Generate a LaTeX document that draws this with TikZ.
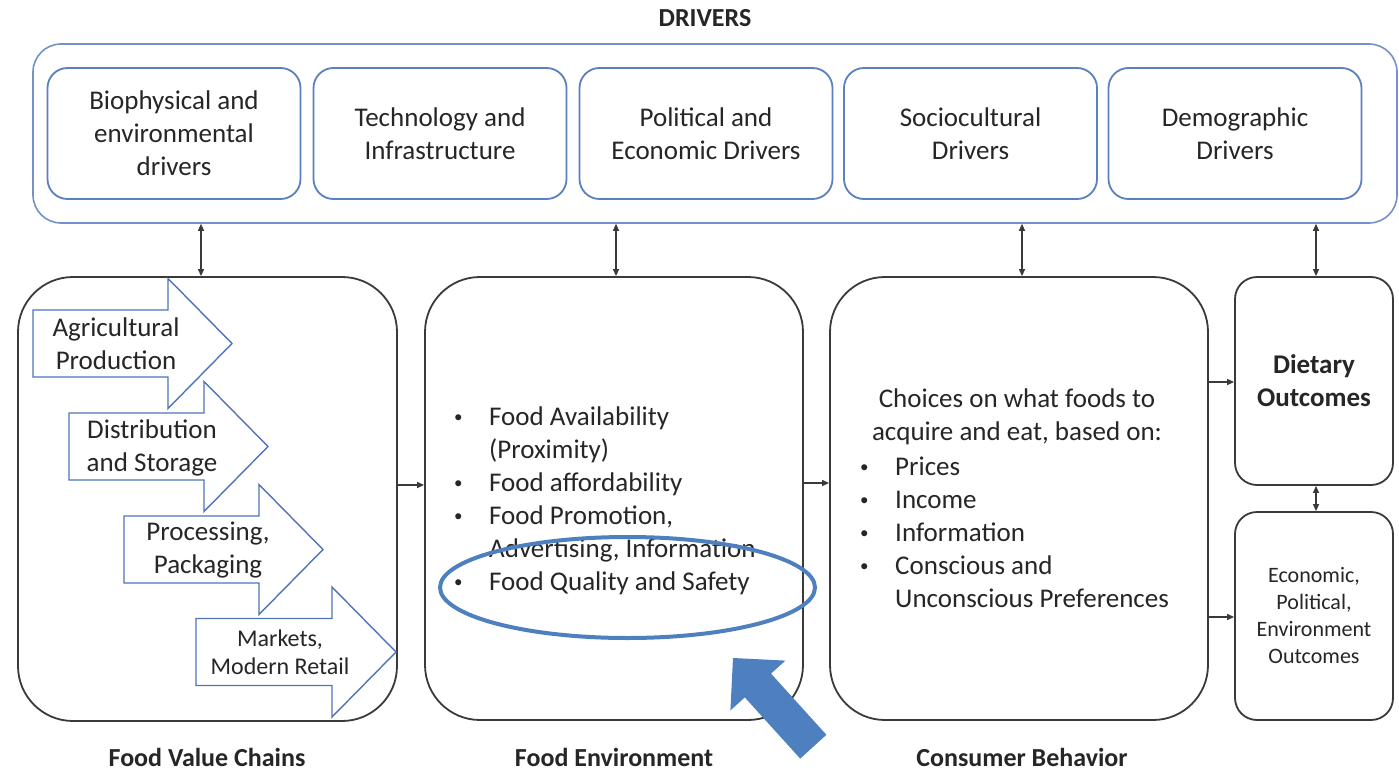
\documentclass[tikz,border=0pt]{standalone}
\usepackage{fontspec}
\setmainfont{Carlito}
\usetikzlibrary{arrows.meta,shapes.geometric}
\definecolor{driverblue}{HTML}{5B7FC0}
\definecolor{chainblue}{HTML}{4F74B8}
\definecolor{markblue}{HTML}{4E7FBE}
\definecolor{ink}{HTML}{262626}
\definecolor{frame}{HTML}{3A3A3A}

% one step of the value chain: left edge, body right edge, centre line
\newcommand\drawchain[3]{%
  \draw[chain] (#1,{#3-33.5}) -- (#2,{#3-33.5}) -- (#2,{#3-65}) -- ({#2+64},#3)
    -- (#2,{#3+65}) -- (#2,{#3+33.5}) -- (#1,{#3+33.5}) -- cycle;}
% small list bullet
\newcommand\listdot{\hspace*{3pt}\raisebox{3pt}{\fontsize{17}{17}\selectfont\textbullet}}

\begin{document}
\begin{tikzpicture}[x=1pt,y=-1pt,
  txt/.style={inner sep=0pt, text=ink, font=\fontsize{27}{33}\selectfont, align=center},
  listtxt/.style={inner sep=0pt, text=ink, font=\fontsize{27}{33}\selectfont, anchor=base west},
  drvbox/.style={draw=driverblue, line width=1.8pt, rounded corners=20pt,
    minimum width=253pt, minimum height=131pt, inner sep=0pt, text=ink,
    font=\fontsize{27}{33}\selectfont, align=center},
  stage/.style={draw=frame, line width=1.8pt, rounded corners=55pt,
    minimum width=378pt, minimum height=443pt, inner sep=0pt},
  outcome/.style={draw=frame, line width=1.8pt, rounded corners=22pt,
    minimum width=158pt, minimum height=208pt, inner sep=0pt, text=ink, align=center},
  chain/.style={draw=chainblue, line width=1.4pt, fill=white, line join=miter},
  link/.style={draw=frame, line width=1.2pt, -{Triangle[length=7pt,width=6pt]}},
  dlink/.style={draw=frame, line width=1.2pt,
    {Triangle[length=7pt,width=6pt]}-{Triangle[length=7pt,width=6pt]}},
  heading/.style={inner sep=0pt, text=ink, font=\bfseries\fontsize{26}{31}\selectfont}
]
\useasboundingbox (0,0) rectangle (1399,773);
\fill[white] (0,0) rectangle (1399,773);

% ---------- drivers ----------
\node[heading] (title) at (705,18) {DRIVERS};
\node[draw=driverblue!85, line width=1.6pt, rounded corners=28pt,
      minimum width=1364pt, minimum height=179pt] (drivers) at (715,133.5) {};
\node[drvbox] (bio)  at (174,133.5)  {Biophysical and\\environmental\\drivers};
\node[drvbox] (tech) at (440,133.5)  {Technology and\\Infrastructure};
\node[drvbox] (pol)  at (706,133.5)  {Political and\\Economic Drivers};
\node[drvbox] (soc)  at (970.5,133.5){Sociocultural\\Drivers};
\node[drvbox] (dem)  at (1235,133.5) {Demographic\\Drivers};

% ---------- stages ----------
\node[stage, minimum width=379pt, minimum height=444pt] (fvc) at (207.5,499) {};
\node[stage] (fe) at (614,498.5) {};
\node[stage] (cb) at (1019,498.5) {};
\node[outcome, font=\bfseries\fontsize{27}{33}\selectfont] (diet) at (1314,381) {Dietary\\Outcomes};
\node[outcome, font=\fontsize{22}{27}\selectfont] (econ) at (1314,616)
  {Economic,\\Political,\\Environment\\Outcomes};

% ---------- value chain steps ----------
\drawchain{33}{168}{343.5}
\drawchain{69}{204}{446.5}
\drawchain{124}{259}{549.5}
\drawchain{196}{332}{652}
\node[txt] (agri) at (116,344) {Agricultural\\Production};
\node[txt] (dist) at (152,448) {Distribution\\and Storage};
\node[txt] (proc) at (208,550) {Processing,\\Packaging};
\node[txt, font=\fontsize{24}{28}\selectfont] (mkt) at (280,652) {Markets,\\Modern Retail};

% ---------- food environment ----------
\node[listtxt] (felist) at (451,425) {\begin{tabular}[t]{@{}p{38pt}@{}l@{}}
  \listdot & Food Availability\\
           & (Proximity)\\
  \listdot & Food affordability\\
  \listdot & Food Promotion,\\
           & Advertising, Information\\
  \listdot & Food Quality and Safety
\end{tabular}};

% ---------- consumer behaviour ----------
\node[txt] (cbhead) at (1017,416.5) {Choices on what foods to\\acquire and eat, based on:};
\node[listtxt] (cblist) at (857,475) {\begin{tabular}[t]{@{}p{38pt}@{}l@{}}
  \listdot & Prices\\
  \listdot & Income\\
  \listdot & Information\\
  \listdot & Conscious and\\
           & Unconscious Preferences
\end{tabular}};

% ---------- captions ----------
\node[heading] (lblfvc) at (207,757)  {Food Value Chains};
\node[heading] (lblfe)  at (614,757)  {Food Environment};
\node[heading] (lblcb)  at (1022,757) {Consumer Behavior};

% ---------- connectors ----------
\coordinate (c1) at (201,0);
\coordinate (c2) at (616,0);
\coordinate (c3) at (1022,0);
\coordinate (c4) at (1316,0);
\draw[dlink] (drivers.south -| c1) -- (fvc.north -| c1);
\draw[dlink] (drivers.south -| c2) -- (fe.north -| c2);
\draw[dlink] (drivers.south -| c3) -- (cb.north -| c3);
\draw[dlink] (drivers.south -| c4) -- (diet.north -| c4);
\draw[dlink] (diet.south -| c4) -- (econ.north -| c4);

\coordinate (r1) at (0,485);
\coordinate (r2) at (0,483);
\coordinate (r3) at (0,382);
\coordinate (r4) at (0,617);
\draw[link] (fvc.east |- r1) -- (fe.west |- r1);
\draw[link] (fe.east |- r2) -- (cb.west |- r2);
\draw[link] (cb.east |- r3) -- (diet.west |- r3);
\draw[link] (cb.east |- r4) -- (econ.west |- r4);

% ---------- highlight ----------
\node[draw=markblue, line width=4pt, ellipse, minimum width=375pt,
      minimum height=101pt, inner sep=0pt] (focus) at (627.5,587.5) {};
\fill[markblue] (733,658) -- (785.4,660.6) -- (771,673.6) -- (826.4,734.8)
  -- (800.2,758.6) -- (744.8,697.4) -- (730.4,710.4) -- cycle;
\end{tikzpicture}
\end{document}
